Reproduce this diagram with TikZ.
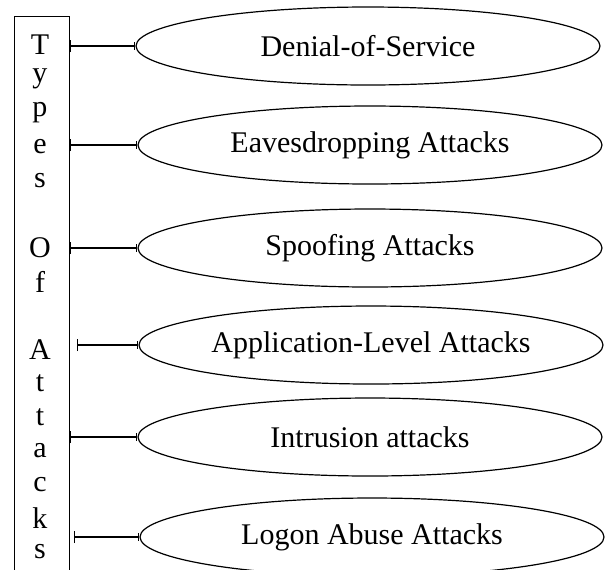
\documentclass[tikz,border=0pt]{standalone}
\usepackage{fontspec}
\setmainfont{Liberation Serif}
\usetikzlibrary{arrows.meta,shapes.geometric}
\begin{document}
\begin{tikzpicture}[x=0.5pt, y=-0.5pt,
	attacco/.style={draw, ellipse, line width=0.6pt, minimum width=232pt, minimum height=39pt, inner sep=0pt, font=\fontsize{15}{18}\selectfont},
	lettera/.style={inner sep=0pt, font=\fontsize{15}{18}\selectfont},
	ramo/.style={line width=0.6pt, {Bar[width=6pt]}-{Bar[width=4pt]}}]
	\useasboundingbox (0,0) rectangle (608,569);
	% riquadro verticale
	\node[draw, line width=0.6pt, anchor=north west, minimum width=27.5pt, minimum height=300pt, inner sep=0pt] (box) at (14,16) {};
	\foreach \ch [count=\i from 0] in {T,y,p,e,s,{},O,f,{},A,t,t,a,c,k,s}
		\node[lettera] (l\i) at (40, 45+33.8*\i) {\ch};
	% tipi di attacco
	\node[attacco] (dos) at (368,46) {Denial-of-Service};
	\node[attacco] (eav) at (370,145) {Eavesdropping Attacks};
	\node[attacco] (spo) at (370,248) {Spoofing Attacks};
	\node[attacco] (app) at (371,345) {Application-Level Attacks};
	\node[attacco] (int) at (370,437) {Intrusion attacks};
	\node[attacco] (log) at (372,537) {Logon Abuse Attacks};
	% collegamenti
	\draw[ramo] (box.east |- dos.west) -- (dos.west);
	\draw[ramo] (box.east |- eav.west) -- (eav.west);
	\draw[ramo] (box.east |- spo.west) -- (spo.west);
	\draw[ramo] ([xshift=3.5pt]box.east |- app.west) -- (app.west);
	\draw[ramo] (box.east |- int.west) -- (int.west);
	\draw[ramo] ([xshift=2pt]box.east |- log.west) -- (log.west);
\end{tikzpicture}
\end{document}
